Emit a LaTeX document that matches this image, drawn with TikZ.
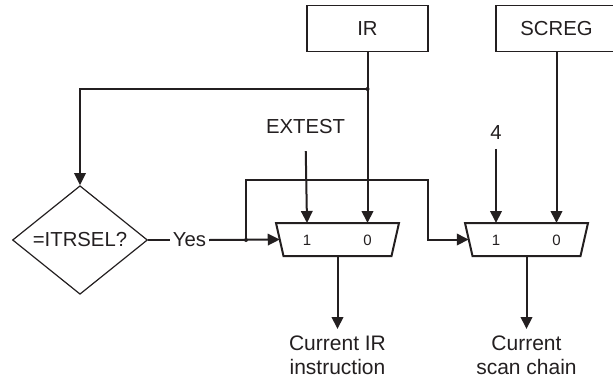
\documentclass[tikz,border=0pt]{standalone}
\usepackage{fontspec}
\setmainfont{Liberation Sans}
\usepackage{tikz}
\usetikzlibrary{arrows.meta,shapes.geometric}
\definecolor{ink}{HTML}{231F20}
\newcommand{\bigtxt}{\fontsize{20.3}{24}\selectfont}
\newcommand{\outtxt}{\fontsize{21}{24}\selectfont}
\newcommand{\smalltxt}{\fontsize{15}{18}\selectfont}
% the mux outline, drawn on the corners of its box node
\newcommand{\muxedge}[1]{%
  \draw (#1.north west) -- (#1.north east) -- ([xshift=-7.5pt]#1.south east)
    -- ([xshift=7.5pt]#1.south west) -- cycle;}

\begin{document}
\begin{tikzpicture}[x=1pt, y=-1pt, line width=2pt, ink,
    reg/.style={draw, line width=1.8pt, minimum width=121pt, minimum height=46pt, inner sep=0pt,
      font=\bigtxt},
    test/.style={draw, diamond, line width=1.2pt, minimum width=135pt, minimum height=90pt,
      inner sep=0pt, font=\bigtxt},
    mux/.style={minimum width=121pt, minimum height=31pt, inner sep=0pt},
    muxlbl/.style={inner sep=0pt, font=\smalltxt},
    lbl/.style={inner sep=2pt, font=\bigtxt},
    outlbl/.style={anchor=north, inner sep=6pt, align=center, font=\outtxt},
    arr/.style={-{Triangle[length=12pt, width=11.5pt]}},
    dot/.style={circle, fill, inner sep=0pt, minimum size=4pt}]
  \useasboundingbox (0,0) rectangle (613,381);

  % registers on top
  \node[reg] (ir) at (367.5,28.5) {IR};
  \node[reg] (screg) at (556.5,28.5) {SCREG};

  % the select test
  \node[test] (sel) at (80,240) {=ITRSEL?};
  \node[lbl] (yes) at (189.5,240) {Yes};

  % the two muxes
  \node[mux] (muxir) at (337.5,239.5) {};
  \node[mux] (muxsc) at (526.5,239.5) {};
  \muxedge{muxir}
  \muxedge{muxsc}
  \node[muxlbl] (irone) at (307,240) {1};
  \node[muxlbl] (irzero) at (367.5,240) {0};
  \node[muxlbl] (scone) at (496,240) {1};
  \node[muxlbl] (sczero) at (556.5,240) {0};

  \node[lbl] (extest) at (305.5,127) {EXTEST};
  \node[lbl] (four) at (496,133) {4};

  \node[outlbl] (irout) at (337.5,329) {Current IR\\instruction};
  \node[outlbl] (scout) at (526.5,329) {Current\\scan chain};

  \coordinate (irtap) at (367.5,89);
  \coordinate (fb) at (246,240);
  \coordinate (fbtop) at (428,180);

  % IR down to the mux and round to the test
  \draw[arr] (ir.south) -- (irzero |- muxir.north);
  \draw[arr] (irtap) -| (sel.north);
  \node[dot] (irdot) at (irtap) {};
  \draw[arr] (screg.south) -- (sczero |- muxsc.north);
  \draw[arr, shorten <=14pt] (extest.south) -- (irone |- muxir.north);
  \draw[arr, shorten <=6pt] (four.south) -- (scone |- muxsc.north);

  % Yes goes to both selects
  \draw (sel.east) -- (yes.west);
  \draw[arr] (yes.east) -- ([xshift=3.75pt]muxir.west);
  \node[dot] (fbdot) at (fb) {};
  \draw[arr] (fb) |- (fbtop) |- ([xshift=3.75pt]muxsc.west);

  \draw[arr] (muxir.south) -- (irout.north);
  \draw[arr] (muxsc.south) -- (scout.north);
\end{tikzpicture}
\end{document}
